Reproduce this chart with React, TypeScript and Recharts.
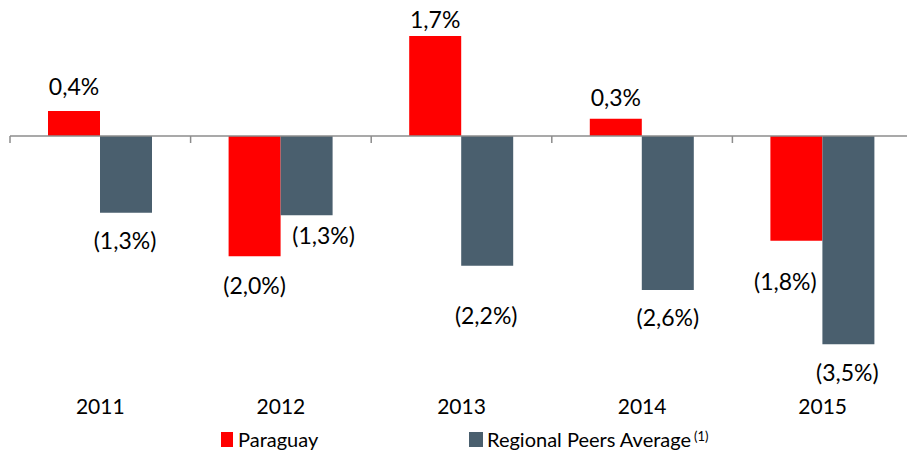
import React from 'react';
import { BarChart, Bar, XAxis, YAxis, ReferenceLine, Legend, LabelList } from 'recharts';

const years = ['2011', '2012', '2013', '2014', '2015'];
const paraguay = [0.42, -2.02, 1.68, 0.29, -1.76];
const regionalPeers = [-1.29, -1.33, -2.18, -2.59, -3.5];

// hand placement of the value labels in the original slide
const paraguayLabelNudge = [
  { dx: 0, dy: -3 },
  { dx: 0, dy: -1 },
  { dx: 0, dy: 5 },
  { dx: 0, dy: 0 },
  { dx: -11, dy: 10 },
];
const peersLabelNudge = [
  { dx: -1, dy: -3 },
  { dx: 17, dy: -10 },
  { dx: -1, dy: 19 },
  { dx: 0, dy: -3 },
  { dx: -1, dy: -2 },
];

const data = years.map((year, i) => ({
  year,
  paraguay: paraguay[i],
  peers: regionalPeers[i],
}));

const RED = '#ff0000';
const SLATE = '#4a5f6e';
const AXIS = '#8c8c8c';
const FONT = "Lato, 'Open Sans', sans-serif";

// 0,4%  /  (1,3%)
const fmt = (v: number) => {
  const s = Math.abs(v).toFixed(1).replace('.', ',') + '%';
  return v < 0 ? `(${s})` : s;
};

const makeLabel = (nudge: { dx: number; dy: number }[]) => (props: any) => {
  const { x, y, width, height, value, index } = props;
  const top = Math.min(y, y + height);
  const bottom = Math.max(y, y + height);
  const n = nudge[index] || { dx: 0, dy: 0 };
  const cy = (value >= 0 ? top - 22 : bottom + 30) + n.dy;
  return (
    <text
      x={x + width / 2 + n.dx}
      y={cy}
      textAnchor="middle"
      dominantBaseline="central"
      fontFamily={FONT}
      fontSize={23}
      fill="#000"
    >
      {fmt(value)}
    </text>
  );
};

const ParaguayLabel = makeLabel(paraguayLabelNudge);
const PeersLabel = makeLabel(peersLabelNudge);

// zero line with small marks at the category boundaries
const ZeroAxis = (props: any) => {
  const { x1, y1, x2 } = props;
  const step = (x2 - x1) / years.length;
  return (
    <g>
      <line x1={x1} y1={y1} x2={x2} y2={y1} stroke={AXIS} strokeWidth={1.5} />
      {years.map((_, i) => (
        <line key={i} x1={x1 + i * step} y1={y1} x2={x1 + i * step} y2={y1 + 7} stroke={AXIS} strokeWidth={1.5} />
      ))}
    </g>
  );
};

const YearTick = (props: any) => {
  const { x, y, payload } = props;
  return (
    <text x={x} y={y + 23} textAnchor="middle" dominantBaseline="central" fontFamily={FONT} fontSize={21} fill="#000">
      {payload.value}
    </text>
  );
};

const LegendBox = () => (
  <div style={{ position: 'relative', height: 33, fontFamily: FONT, fontSize: 20, color: '#000', lineHeight: '22px' }}>
    <span style={{ position: 'absolute', left: 221, top: 13, width: 12, height: 15, background: RED }} />
    <span style={{ position: 'absolute', left: 238, top: 9 }}>Paraguay</span>
    <span style={{ position: 'absolute', left: 469, top: 13, width: 14, height: 15, background: SLATE }} />
    <span style={{ position: 'absolute', left: 487, top: 9, whiteSpace: 'nowrap' }}>
      Regional Peers Average
      <sup style={{ fontSize: 13, marginLeft: 3, verticalAlign: 'top', position: 'relative', top: -3 }}>(1)</sup>
    </span>
  </div>
);

export default function App() {
  return (
    <div style={{ position: 'absolute', left: 0, top: 0, width: 907, height: 452, overflow: 'hidden', background: '#fff' }}>
      <BarChart
        width={916}
        height={452}
        data={data}
        margin={{ top: 17, right: 3, left: 10, bottom: 0 }}
        barGap={0}
      >
        <XAxis dataKey="year" axisLine={false} tickLine={false} height={45} tick={<YearTick />} interval={0} />
        <YAxis hide domain={[-4, 2]} />
        <ReferenceLine y={0} shape={<ZeroAxis />} />
        <Bar dataKey="paraguay" name="Paraguay" fill={RED} barSize={52} isAnimationActive={false}>
          <LabelList dataKey="paraguay" content={<ParaguayLabel />} />
        </Bar>
        <Bar dataKey="peers" name="Regional Peers Average" fill={SLATE} barSize={52} isAnimationActive={false}>
          <LabelList dataKey="peers" content={<PeersLabel />} />
        </Bar>
        <Legend verticalAlign="bottom" content={<LegendBox />} wrapperStyle={{ left: 0, width: 907, height: 33 }} />
      </BarChart>
    </div>
  );
}
